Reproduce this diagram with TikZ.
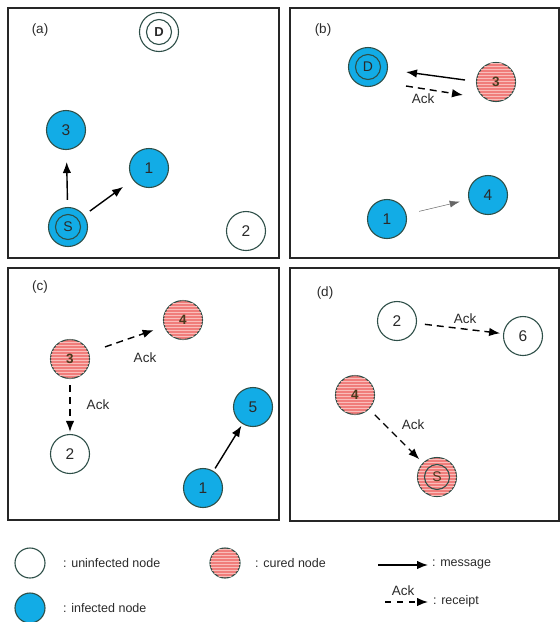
\documentclass[tikz,border=0pt]{standalone}
\usepackage{fontspec}
\setmainfont{Liberation Sans}
\usetikzlibrary{patterns,arrows.meta}
\definecolor{infblue}{HTML}{12ACE6}
\definecolor{curedred}{HTML}{F07D7B}
\definecolor{stripe}{HTML}{F9BDBA}
\definecolor{nodeline}{HTML}{2E4F48}
\definecolor{txtdark}{HTML}{2A2A2A}
\definecolor{curedtxt}{HTML}{4A3A1E}
\begin{document}
\begin{tikzpicture}[x=1pt,y=-1pt,
  nd/.style={circle, draw=nodeline, line width=1.1pt, minimum size=39pt, inner sep=0pt,
             font=\fontsize{15.5}{15.5}\selectfont, text=txtdark},
  inf/.style={nd, fill=infblue},
  uninf/.style={nd, fill=white},
  cured/.style={nd, fill=curedred, text=curedtxt, font=\fontsize{13.5}{13.5}\selectfont\bfseries,
                postaction={pattern=horizontal lines, pattern color=stripe}},
  ringc/.style={draw=nodeline, line width=1.1pt},
  small/.style={minimum size=30pt},
  panel/.style={draw=black!85, line width=2.3pt},
  plabel/.style={font=\fontsize{13.5}{13.5}\selectfont, text=txtdark},
  ack/.style={font=\fontsize{13.5}{13.5}\selectfont, text=txtdark, inner sep=1pt},
  legtxt/.style={font=\fontsize{12.5}{12.5}\selectfont, text=txtdark, anchor=west, inner sep=0pt},
  msg/.style={line width=1.4pt, black, -{Latex[length=11pt,width=8.5pt]}},
  rcpt/.style={line width=1.4pt, black, dash pattern=on 7pt off 5pt, -{Latex[length=11pt,width=8.5pt]}},
  thinmsg/.style={line width=0.5pt, black!60, -{Latex[length=10pt,width=7pt]}}
]
\useasboundingbox (0,0) rectangle (560,622);
% panels
\draw[panel] (8,8) rectangle (279,258);
\draw[panel] (290,8) rectangle (559,258);
\draw[panel] (8,268) rectangle (279,520);
\draw[panel] (290,268) rectangle (559,521);

% (a)
\node[plabel] (la) at (40,30) {(a)};
\node[uninf] (aD) at (159,32) {\fontsize{13}{13}\selectfont\bfseries D};
\draw[ringc] (aD.center) circle (12.5pt);
\node[inf] (a3) at (66,130) {3};
\node[inf] (a1) at (149,168) {1};
\node[inf] (aS) at (68,227) {\fontsize{14}{14}\selectfont S};
\draw[ringc] (aS.center) circle (12.5pt);
\node[uninf] (a2) at (246,231) {2};
\draw[msg, shorten <=7pt, shorten >=12pt] (aS) -- (a3);
\draw[msg, shorten <=7pt, shorten >=12pt] (aS) -- (a1);

% (b)
\node[plabel] (lb) at (323,30) {(b)};
\node[inf] (bD) at (368,67) {\fontsize{14}{14}\selectfont D};
\draw[ringc] (bD.center) circle (12.5pt);
\node[cured] (b3) at (496,82) {3};
\node[inf] (b1) at (387,219) {1};
\node[inf] (b4) at (488,195) {4};
\coordinate (bm1) at (465,80);
\coordinate (bm2) at (406,72);
\draw[msg] (bm1) -- (bm2);
\coordinate (br1) at (406,86);
\coordinate (br2) at (463,95);
\node[ack] (backl) at (423,99) {Ack};
\draw[rcpt] (br1) -- (br2);
\draw[thinmsg, shorten <=13pt, shorten >=9pt] (b1) -- (b4);

% (c)
\node[plabel] (lc) at (40,287) {(c)};
\node[cured] (c3) at (70,359) {3};
\node[cured] (c4) at (183,320) {4};
\node[uninf] (c2) at (70,454) {2};
\node[inf] (c5) at (253,407) {5};
\node[inf] (c1) at (203,488) {1};
\node[ack] (cack1) at (145,358) {Ack};
\node[ack] (cack2) at (98,405) {Ack};
\draw[rcpt, shorten <=17pt, shorten >=11pt] (c3) -- (c4);
\draw[rcpt, shorten <=6pt, shorten >=2pt] (c3) -- (c2);
\draw[msg, shorten <=3pt, shorten >=2pt] (c1) -- (c5);

% (d)
\node[plabel] (ld) at (325,293) {(d)};
\node[uninf] (d2) at (397,321) {2};
\node[uninf] (d6) at (523,336) {6};
\node[cured] (d4) at (355,395) {4};
\node[cured] (dS) at (437,477) {\fontsize{14}{14}\selectfont\mdseries S};
\draw[ringc] (dS.center) circle (12.5pt);
\node[ack] (dack1) at (465,319) {Ack};
\draw[rcpt, shorten <=8pt, shorten >=3pt] (d2) -- (d6);
\node[ack] (dack2) at (413,425) {Ack};
\draw[rcpt, shorten <=8pt, shorten >=5pt] (d4) -- (dS);

% legend
\node[uninf, small] (lgu) at (30,563) {};
\node[legtxt] (lgut) at (63,563) {: uninfected node};
\node[inf, small] (lgi) at (30,608) {};
\node[legtxt] (lgit) at (63,608) {: infected node};
\node[cured, small] (lgc) at (225,563) {};
\node[legtxt] (lgct) at (255,563) {: cured node};
\coordinate (lm1) at (378,565);
\coordinate (lm2) at (428,565);
\draw[msg] (lm1) -- (lm2);
\node[legtxt] (lgmt) at (432,564) {: message};
\coordinate (lr1) at (385,602);
\coordinate (lr2) at (428,602);
\draw[rcpt, dash pattern=on 6pt off 6pt] (lr1) -- (lr2);
\node[ack] (lgack) at (403,591) {Ack};
\node[legtxt] (lgrt) at (433,601) {: receipt};
\end{tikzpicture}
\end{document}
